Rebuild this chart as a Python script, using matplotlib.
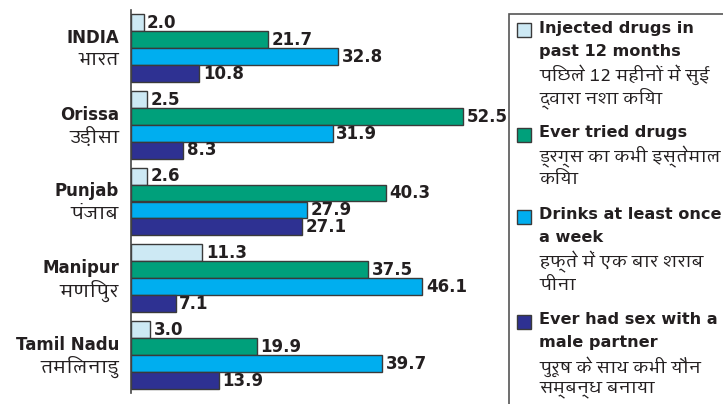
import matplotlib
matplotlib.use('Agg')
import matplotlib.pyplot as plt
from matplotlib.patches import Rectangle
import numpy as np

states = ['INDIA', 'Orissa', 'Punjab', 'Manipur', 'Tamil Nadu']
states_hi = ['भारत', 'उड़ीसा', 'पंजाब', 'मणिपुर', 'तमिलनाडु']
injected = [2.0, 2.5, 2.6, 11.3, 3.0]
tried = [21.7, 52.5, 40.3, 37.5, 19.9]
drinks = [32.8, 31.9, 27.9, 46.1, 39.7]
sex_male = [10.8, 8.3, 27.1, 7.1, 13.9]

series = [injected, tried, drinks, sex_male]
colors = ['#cde9f4', '#00a07b', '#00aeef', '#2e3192']
legend_en = [['Injected drugs in', 'past 12 months'],
             ['Ever tried drugs'],
             ['Drinks at least once', 'a week'],
             ['Ever had sex with a', 'male partner']]
legend_hi = [['पिछले 12 महीनों में सुई', 'द्वारा नशा किया'],
             ['ड्रग्स का कभी इस्तेमाल', 'किया'],
             ['हफ्ते में एक बार शराब', 'पीना'],
             ['पुरूष के साथ कभी यौन', 'सम्बन्ध बनाया']]

HI = ['Amiko', 'FreeSans', 'DejaVu Sans']
EN = ['DejaVu Sans']
TXT = '#231f20'
EDGE = '#3a3a3a'

W, H = 723, 404
fig = plt.figure(figsize=(W / 100, H / 100), dpi=100)
ax = fig.add_axes([131 / W, 11 / H, 369 / W, 383 / H])

stride = 4.53
centers = np.arange(len(states)) * stride
for j, vals in enumerate(series):
    ys = centers + (j - 1.5)
    ax.barh(ys, vals, height=1.0, color=colors[j], edgecolor=EDGE, linewidth=1.0)
    for y, v in zip(ys, vals):
        ax.text(v + 0.55, y + 0.02, f'{v:.1f}', va='center', ha='left', fontsize=12,
                fontweight='bold', family=EN, color=TXT, clip_on=False)

for c, en, hi in zip(centers, states, states_hi):
    ax.text(-1.9, c - 0.6, en, ha='right', va='center', fontsize=12, fontweight='bold',
            family=EN, color=TXT)
    ax.text(-1.9, c + 0.72, hi, ha='right', va='center', fontsize=13.5, family=HI, color=TXT)

ax.set_xlim(0, 369 / 6.32)
ax.set_ylim(centers[-1] + 2.24, centers[0] - 2.24)
for s in ['top', 'right', 'bottom']:
    ax.spines[s].set_visible(False)
ax.spines['left'].set_color('#444444')
ax.spines['left'].set_linewidth(1.2)
ax.set_xticks([])
ax.set_yticks([])

# legend box, cut off at the right edge
fig.add_artist(Rectangle((509 / W, -0.1), 1.0, 1 + 0.1 - 14 / H, transform=fig.transFigure,
                         facecolor='none', edgecolor='#555555', linewidth=1.2, clip_on=False))

y = 28
for j in range(4):
    fig.add_artist(Rectangle((517 / W, 1 - (y + 9) / H), 14 / W, 14 / H, transform=fig.transFigure,
                             facecolor=colors[j], edgecolor=EDGE, linewidth=1.0))
    for line in legend_en[j]:
        fig.text(539 / W, 1 - y / H, line, ha='left', va='center', fontsize=11.6,
                 fontweight='bold', family=EN, color=TXT)
        y += 23.5
    for line in legend_hi[j]:
        fig.text(539 / W, 1 - y / H, line, ha='left', va='center', fontsize=12.5,
                 family=HI, color=TXT)
        y += 23.5
    y += 11

fig.savefig('out.png', dpi=100)
